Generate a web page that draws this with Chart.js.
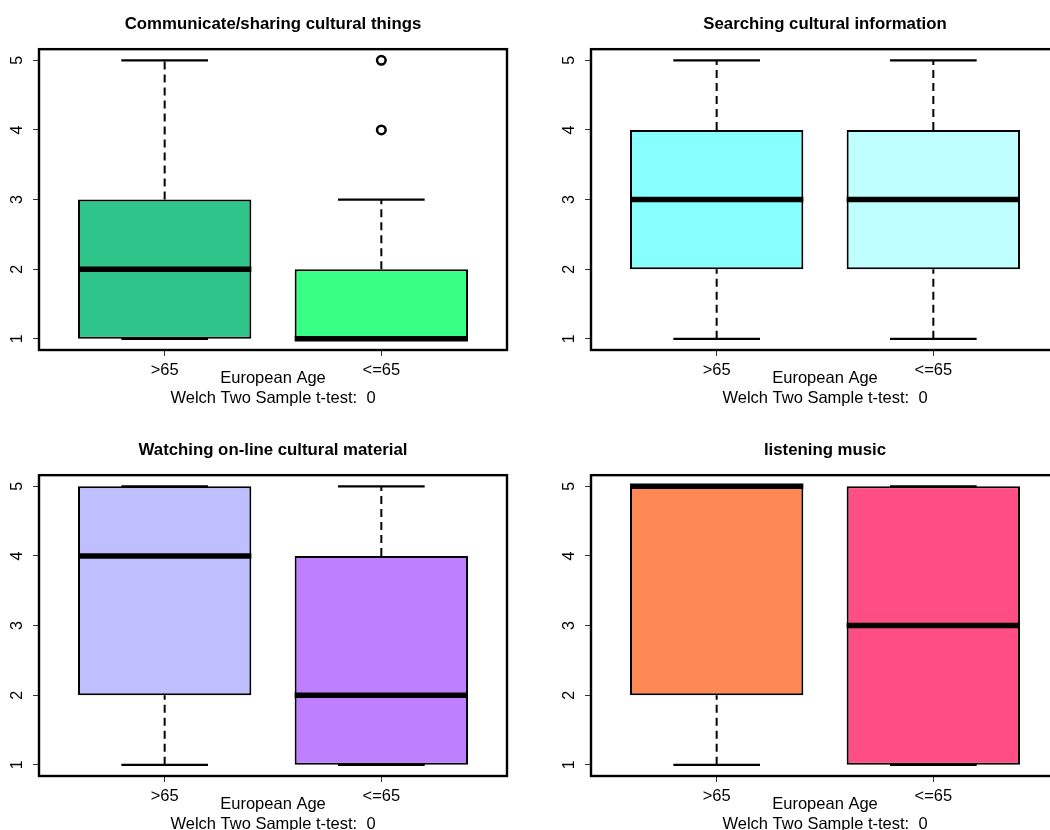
<!DOCTYPE html>
<html>
<head>
<meta charset="utf-8">
<script src="https://cdn.jsdelivr.net/npm/chart.js@4.4.1/dist/chart.umd.min.js"></script>
<style>
  html, body { margin: 0; padding: 0; background: #fff; overflow: hidden; }
  body { width: 1050px; height: 830px; position: relative; }
  .panel { position: absolute; width: 525px; height: 415px; }
</style>
</head>
<body>
<div class="panel" style="left:0;top:0"><canvas id="communicate"></canvas></div>
<div class="panel" style="left:552px;top:0"><canvas id="searching"></canvas></div>
<div class="panel" style="left:0;top:426px"><canvas id="watching"></canvas></div>
<div class="panel" style="left:552px;top:426px"><canvas id="listening"></canvas></div>
<script>
const groups = ['>65', '<=65'];
const xLabel = 'European Age';
const yTicks = [1, 2, 3, 4, 5];

// five-number summaries per age group: min, q1, median, q3, max
const communicateStats = [[1, 1, 2, 3, 5], [1, 1, 1, 2, 3]];
const searchingStats = [[1, 2, 3, 4, 5], [1, 2, 3, 4, 5]];
const watchingStats = [[1, 2, 4, 5, 5], [1, 1, 2, 4, 5]];
const listeningStats = [[1, 2, 5, 5, 5], [1, 1, 3, 5, 5]];

const communicateOutliers = [[], [4, 5]];
const noOutliers = [[], []];

const welchP = [0, 0, 0, 0];

const communicateColors = ['#2FC48A', '#38FF86'];
const searchingColors = ['#88FFFF', '#BFFFFF'];
const watchingColors = ['#BFBFFF', '#BF80FF'];
const listeningColors = ['#FF8855', '#FF4D85'];

const FONT = "'Liberation Sans', Arial, Helvetica, sans-serif";

function segment(points, width, dashed, order) {
  return {
    type: 'line',
    data: points,
    borderColor: '#000',
    borderWidth: width,
    borderDash: dashed ? [8, 5] : [],
    pointRadius: 0,
    tension: 0,
    fill: false,
    order: order
  };
}

function buildDatasets(stats, outliers, colors) {
  const sets = [{
    type: 'bar',
    data: stats.map((s, i) => ({ x: i + 1, y: [s[1], s[3]] })),
    backgroundColor: colors,
    borderColor: '#000',
    borderWidth: 2,
    borderSkipped: false,
    barPercentage: 0.8,
    categoryPercentage: 1,
    order: 4
  }];
  stats.forEach((s, i) => {
    const x = i + 1;
    if (s[4] > s[3]) sets.push(segment([{ x: x, y: s[3] }, { x: x, y: s[4] }], 2, true, 3));
    if (s[1] > s[0]) sets.push(segment([{ x: x, y: s[0] }, { x: x, y: s[1] }], 2, true, 3));
    sets.push(segment([{ x: x - 0.2, y: s[4] }, { x: x + 0.2, y: s[4] }], 2.2, false, 2));
    sets.push(segment([{ x: x - 0.2, y: s[0] }, { x: x + 0.2, y: s[0] }], 2.2, false, 2));
    sets.push(segment([{ x: x - 0.4, y: s[2] }, { x: x + 0.4, y: s[2] }], 5.5, false, 1));
  });
  const pts = [];
  outliers.forEach((vals, i) => vals.forEach(v => pts.push({ x: i + 1, y: v })));
  if (pts.length) {
    sets.push({
      type: 'line',
      data: pts,
      showLine: false,
      pointRadius: 4.3,
      pointBorderWidth: 2.5,
      pointBorderColor: '#000',
      pointBackgroundColor: 'rgba(0,0,0,0)',
      order: 0
    });
  }
  return sets;
}

// plot frame around the chart area
const framePlugin = {
  id: 'frame',
  afterDraw(chart) {
    const { ctx, chartArea: a } = chart;
    ctx.save();
    ctx.strokeStyle = '#000';
    ctx.lineWidth = 2.4;
    ctx.strokeRect(a.left, a.top, a.width, a.height);
    ctx.restore();
  }
};

function drawBoxplot(id, title, stats, outliers, colors, p) {
  new Chart(document.getElementById(id), {
    type: 'bar',
    data: { datasets: buildDatasets(stats, outliers, colors) },
    plugins: [framePlugin],
    options: {
      responsive: true,
      maintainAspectRatio: false,
      animation: false,
      events: [],
      layout: { padding: { left: 0, right: 18, top: 0, bottom: 0 } },
      plugins: {
        legend: { display: false },
        tooltip: { enabled: false },
        title: {
          display: true,
          fullSize: false,
          text: title,
          color: '#000',
          font: { family: FONT, size: 16.8, weight: 'bold', lineHeight: 1.2 },
          padding: { top: 14, bottom: 15 }
        }
      },
      scales: {
        x: {
          type: 'linear',
          offset: false,
          min: 0.42,
          max: 2.58,
          afterBuildTicks(scale) { scale.ticks = groups.map((g, i) => ({ value: i + 1 })); },
          afterFit(scale) { scale.height = 65; },
          grid: { offset: false, drawOnChartArea: false, drawTicks: true, tickLength: 6, color: '#333' },
          border: { display: false },
          ticks: {
            color: '#000',
            padding: 5,
            maxRotation: 0,
            font: { family: FONT, size: 16.5 },
            callback: (v, i) => groups[i]
          },
          title: {
            display: true,
            text: [xLabel, 'Welch Two Sample t-test:  ' + p],
            color: '#000',
            font: { family: FONT, size: 16.5, lineHeight: 1.2 },
            padding: { top: 0, bottom: 7 }
          }
        },
        y: {
          type: 'linear',
          min: 0.84,
          max: 5.16,
          afterBuildTicks(scale) { scale.ticks = yTicks.map(v => ({ value: v })); },
          afterFit(scale) { scale.width = 39; },
          grid: { drawOnChartArea: false, drawTicks: true, tickLength: 6, color: '#333' },
          border: { display: false },
          ticks: {
            color: '#000',
            padding: 11,
            minRotation: 90,
            maxRotation: 90,
            crossAlign: 'center',
            font: { family: FONT, size: 16 }
          }
        }
      }
    }
  });
}

drawBoxplot('communicate', 'Communicate/sharing cultural things', communicateStats, communicateOutliers, communicateColors, welchP[0]);
drawBoxplot('searching', 'Searching cultural information', searchingStats, noOutliers, searchingColors, welchP[1]);
drawBoxplot('watching', 'Watching on-line cultural material', watchingStats, noOutliers, watchingColors, welchP[2]);
drawBoxplot('listening', 'listening music', listeningStats, noOutliers, listeningColors, welchP[3]);
</script>
</body>
</html>
